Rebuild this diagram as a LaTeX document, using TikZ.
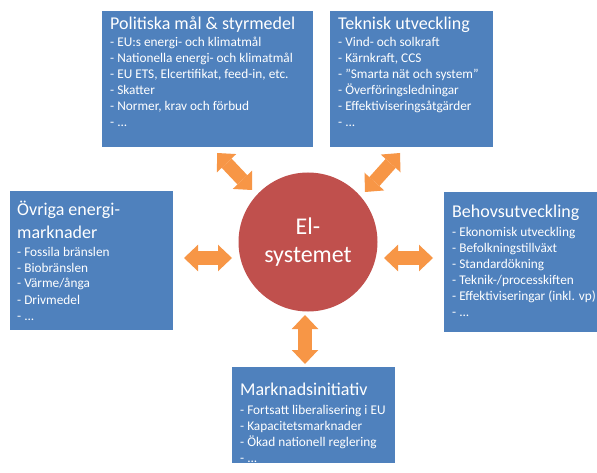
\documentclass[tikz,border=0pt]{standalone}
\usepackage{fontspec}
\setmainfont{Carlito}
\usetikzlibrary{arrows.meta}
\definecolor{boxblue}{HTML}{4F81BD}
\definecolor{elred}{HTML}{C0504D}
\definecolor{arrorange}{HTML}{F79646}
\newcommand\titlef{\fontsize{18}{23}\selectfont}
\newcommand\itemf{\fontsize{13.3}{16}\selectfont}
\begin{document}
\begin{tikzpicture}[x=1pt,y=-1pt,
  panel/.style={fill=boxblue, draw=none, anchor=north west, inner sep=0pt},
  txt/.style={anchor=base west, inner sep=0pt, text=white},
  dbl/.style={draw=arrorange, line width=13.5pt,
    {Triangle[width=26.5pt,length=14pt,line width=0pt,fill=arrorange]}-{Triangle[width=26.5pt,length=14pt,line width=0pt,fill=arrorange]}}]
\useasboundingbox (0,0) rectangle (597,473);
\fill[white] (0,0) rectangle (597,473);

% panels
\node (pol) [panel, minimum width=211pt, minimum height=136pt] at (102,11) {};
\node (tek) [panel, minimum width=163pt, minimum height=136pt] at (330,11) {};
\node (ovr) [panel, minimum width=163pt, minimum height=139pt] at (10,191) {};
\node (beh) [panel, minimum width=153pt, minimum height=140pt] at (444,192) {};
\node (mar) [panel, minimum width=163pt, minimum height=96pt] at (232,367) {};

% texts
\node (polt) [txt] at (110,30) {\vtop{\titlef\hbox{Politiska mål \& styrmedel}\vskip1pt\itemf
  \hbox{- EU:s energi- och klimatmål}
  \hbox{- Nationella energi- och klimatmål}
  \hbox{- EU ETS, Elcertifikat, feed-in, etc.}
  \hbox{- Skatter}
  \hbox{- Normer, krav och förbud}
  \hbox{- ...}}};
\node (tekt) [txt] at (338,30) {\vtop{\titlef\hbox{Teknisk utveckling}\vskip1pt\itemf
  \hbox{- Vind- och solkraft}
  \hbox{- Kärnkraft, CCS}
  \hbox{- ”Smarta nät och system”}
  \hbox{- Överföringsledningar}
  \hbox{- Effektiviseringsåtgärder}
  \hbox{- ...}}};
\node (ovrt) [txt] at (17,215) {\vtop{\titlef\hbox{Övriga energi-}\hbox{marknader}\vskip2pt\itemf
  \hbox{- Fossila bränslen}
  \hbox{- Biobränslen}
  \hbox{- Värme/ånga}
  \hbox{- Drivmedel}
  \hbox{- ...}}};
\node (beht) [txt] at (452,218) {\vtop{\titlef\hbox{Behovsutveckling}\vskip2.5pt\itemf
  \hbox{- Ekonomisk utveckling}
  \hbox{- Befolkningstillväxt}
  \hbox{- Standardökning}
  \hbox{- Teknik-/processkiften}
  \hbox{- Effektiviseringar (inkl. vp)}
  \hbox{- ...}}};
\node (mart) [txt] at (240,395) {\vtop{\titlef\hbox{Marknadsinitiativ}\vskip3pt\itemf
  \hbox{- Fortsatt liberalisering i EU}
  \hbox{- Kapacitetsmarknader}
  \hbox{- Ökad nationell reglering}
  \hbox{- ...}}};

% centre
\node (el) [circle, fill=elred, minimum size=139pt, inner sep=0pt, text=white,
  align=center, font=\fontsize{24}{28}\selectfont] at (308,242) {El-\\systemet};

% arrows
\coordinate (a1s) at (217,153); \coordinate (a1e) at (252,190);
\coordinate (a2s) at (400,153); \coordinate (a2e) at (365,192);
\coordinate (a3s) at (184,258); \coordinate (a3e) at (232,258);
\coordinate (a4s) at (384,258); \coordinate (a4e) at (433,258);
\coordinate (a5s) at (305,315); \coordinate (a5e) at (305,364);
\draw[dbl] (a1s) -- (a1e);
\draw[dbl] (a2s) -- (a2e);
\draw[dbl] (a3s) -- (a3e);
\draw[dbl] (a4s) -- (a4e);
\draw[dbl] (a5s) -- (a5e);
\end{tikzpicture}
\end{document}
